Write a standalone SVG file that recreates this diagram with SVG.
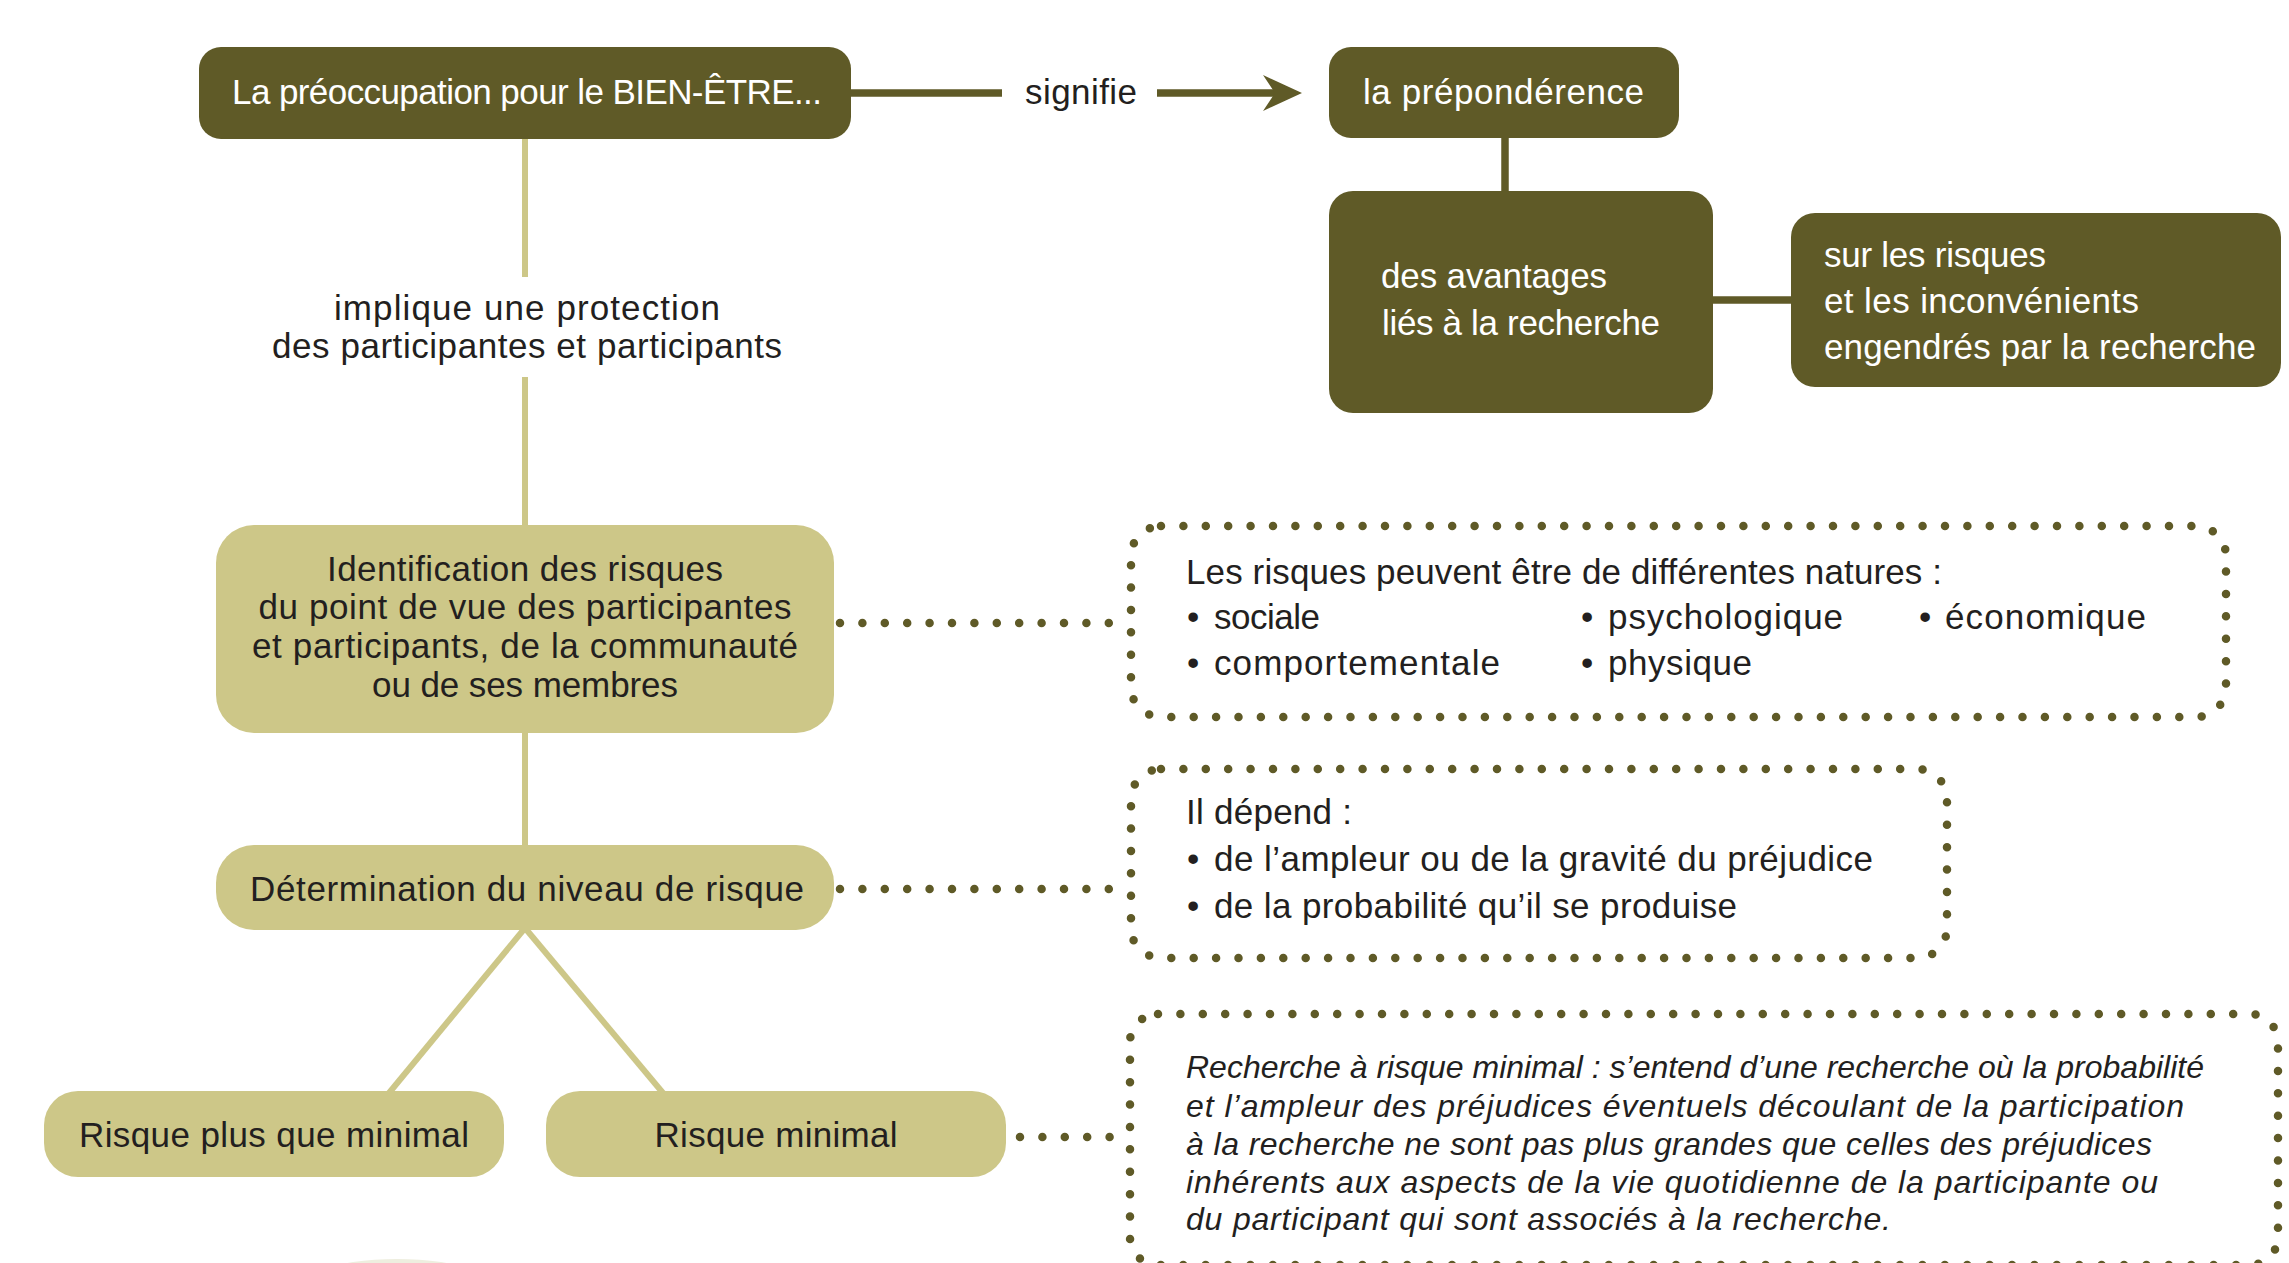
<svg xmlns="http://www.w3.org/2000/svg" width="2289" height="1263" viewBox="0 0 2289 1263">
<style>
.dark{fill:#5f5a27}
.light{fill:#cdc788}
.pale{fill:#eeeedf}
text{font-family:"Liberation Sans",Arial,sans-serif;font-size:35px}
.wt{fill:#ffffff}
.bt{fill:#231f20}
.it{font-style:italic;font-size:32px}
.dotted{fill:none;stroke:#5f5a27;stroke-width:8.5;stroke-linecap:round;stroke-dasharray:0 22.4}
.lline{stroke:#cdc788;stroke-width:6;fill:none}
.dline{stroke:#5f5a27;stroke-width:7.5;fill:none}
</style>
<rect width="2289" height="1263" fill="#ffffff"/>
<g id="connectors">
  <line class="dline" x1="851" y1="93" x2="1002" y2="93"/>
  <line class="dline" x1="1157" y1="93" x2="1276" y2="93"/>
  <path class="dark" d="M1263,75 L1302,93 L1263,111 L1275,93 Z"/>
  <text class="bt" x="1025" y="104" textLength="112" lengthAdjust="spacing">signifie</text>
  <line class="dline" x1="1505" y1="136" x2="1505" y2="193"/>
  <line class="dline" x1="1711" y1="300" x2="1793" y2="300"/>
  <line class="lline" x1="525" y1="137" x2="525" y2="277"/>
  <line class="lline" x1="525" y1="377" x2="525" y2="527"/>
  <text class="bt" x="527" y="320" text-anchor="middle" textLength="386" lengthAdjust="spacing">implique une protection</text>
  <text class="bt" x="527" y="358" text-anchor="middle" textLength="510" lengthAdjust="spacing">des participantes et participants</text>
  <line class="lline" x1="525" y1="731" x2="525" y2="847"/>
  <line class="lline" x1="525" y1="928" x2="389" y2="1093"/>
  <line class="lline" x1="525" y1="928" x2="663" y2="1093"/>
  <line class="dotted" x1="840" y1="623" x2="1110" y2="623"/>
  <line class="dotted" x1="840" y1="889" x2="1110" y2="889"/>
  <line class="dotted" x1="1020" y1="1137" x2="1110" y2="1137"/>
</g>
<g id="node-bienetre">
  <rect class="dark" x="199" y="47" width="652" height="92" rx="22"/>
  <text class="wt" x="527" y="104" text-anchor="middle" textLength="590" lengthAdjust="spacing">La préoccupation pour le BIEN-ÊTRE...</text>
</g>
<g id="node-preponderence">
  <rect class="dark" x="1329" y="47" width="350" height="91" rx="22"/>
  <text class="wt" x="1363" y="104" textLength="281" lengthAdjust="spacing">la prépondérence</text>
</g>
<g id="node-avantages">
  <rect class="dark" x="1329" y="191" width="384" height="222" rx="24"/>
  <text class="wt" x="1381" y="288" textLength="226" lengthAdjust="spacing">des avantages</text>
  <text class="wt" x="1382" y="335" textLength="278" lengthAdjust="spacing">liés à la recherche</text>
</g>
<g id="node-risques">
  <rect class="dark" x="1791" y="213" width="490" height="174" rx="24"/>
  <text class="wt" x="1824" y="267" textLength="222" lengthAdjust="spacing">sur les risques</text>
  <text class="wt" x="1824" y="313" textLength="315" lengthAdjust="spacing">et les inconvénients</text>
  <text class="wt" x="1824" y="359" textLength="432" lengthAdjust="spacing">engendrés par la recherche</text>
</g>
<g id="node-identification">
  <rect class="light" x="216" y="525" width="618" height="208" rx="38"/>
  <text class="bt" x="525" y="581" text-anchor="middle" textLength="396" lengthAdjust="spacing">Identification des risques</text>
  <text class="bt" x="525" y="619" text-anchor="middle" textLength="533" lengthAdjust="spacing">du point de vue des participantes</text>
  <text class="bt" x="525" y="658" text-anchor="middle" textLength="546" lengthAdjust="spacing">et participants, de la communauté</text>
  <text class="bt" x="525" y="697" text-anchor="middle" textLength="306" lengthAdjust="spacing">ou de ses membres</text>
</g>
<g id="node-determination">
  <rect class="light" x="216" y="845" width="618" height="85" rx="38"/>
  <text class="bt" x="527" y="901" text-anchor="middle" textLength="554" lengthAdjust="spacing">Détermination du niveau de risque</text>
</g>
<g id="node-plus-que-minimal">
  <rect class="light" x="44" y="1091" width="460" height="86" rx="34"/>
  <text class="bt" x="274" y="1147" text-anchor="middle" textLength="390" lengthAdjust="spacing">Risque plus que minimal</text>
</g>
<g id="node-minimal">
  <rect class="light" x="546" y="1091" width="460" height="86" rx="34"/>
  <text class="bt" x="776" y="1147" text-anchor="middle" textLength="243" lengthAdjust="spacing">Risque minimal</text>
</g>
<g id="node-natures">
  <rect class="dotted" x="1131" y="526" width="1095" height="191" rx="30"/>
  <text class="bt" x="1186" y="584" textLength="756" lengthAdjust="spacing">Les risques peuvent être de différentes natures :</text>
  <text class="bt"><tspan x="1187" y="629">•</tspan><tspan x="1214" y="629" textLength="106" lengthAdjust="spacing">sociale</tspan></text>
  <text class="bt"><tspan x="1581" y="629">•</tspan><tspan x="1608" y="629" textLength="235" lengthAdjust="spacing">psychologique</tspan></text>
  <text class="bt"><tspan x="1919" y="629">•</tspan><tspan x="1945" y="629" textLength="201" lengthAdjust="spacing">économique</tspan></text>
  <text class="bt"><tspan x="1187" y="675">•</tspan><tspan x="1214" y="675" textLength="286" lengthAdjust="spacing">comportementale</tspan></text>
  <text class="bt"><tspan x="1581" y="675">•</tspan><tspan x="1608" y="675" textLength="144" lengthAdjust="spacing">physique</tspan></text>
</g>
<g id="node-depend">
  <rect class="dotted" x="1131" y="769" width="816" height="189" rx="30"/>
  <text class="bt" x="1186" y="824" textLength="166" lengthAdjust="spacing">Il dépend :</text>
  <text class="bt"><tspan x="1187" y="871">•</tspan><tspan x="1214" y="871" textLength="659" lengthAdjust="spacing">de l’ampleur ou de la gravité du préjudice</tspan></text>
  <text class="bt"><tspan x="1187" y="918">•</tspan><tspan x="1214" y="918" textLength="523" lengthAdjust="spacing">de la probabilité qu’il se produise</tspan></text>
</g>
<g id="node-definition">
  <rect class="dotted" x="1130" y="1014" width="1148" height="251" rx="28"/>
  <text class="bt it" x="1186" y="1078" textLength="1018" lengthAdjust="spacing">Recherche à risque minimal : s’entend d’une recherche où la probabilité</text>
  <text class="bt it" x="1186" y="1117" textLength="998" lengthAdjust="spacing">et l’ampleur des préjudices éventuels découlant de la participation</text>
  <text class="bt it" x="1186" y="1155" textLength="966" lengthAdjust="spacing">à la recherche ne sont pas plus grandes que celles des préjudices</text>
  <text class="bt it" x="1186" y="1193" textLength="972" lengthAdjust="spacing">inhérents aux aspects de la vie quotidienne de la participante ou</text>
  <text class="bt it" x="1186" y="1230" textLength="705" lengthAdjust="spacing">du participant qui sont associés à la recherche.</text>
</g>
<g id="node-bottom">
  <ellipse class="pale" cx="397" cy="1300" rx="115" ry="41"/>
</g>
</svg>
